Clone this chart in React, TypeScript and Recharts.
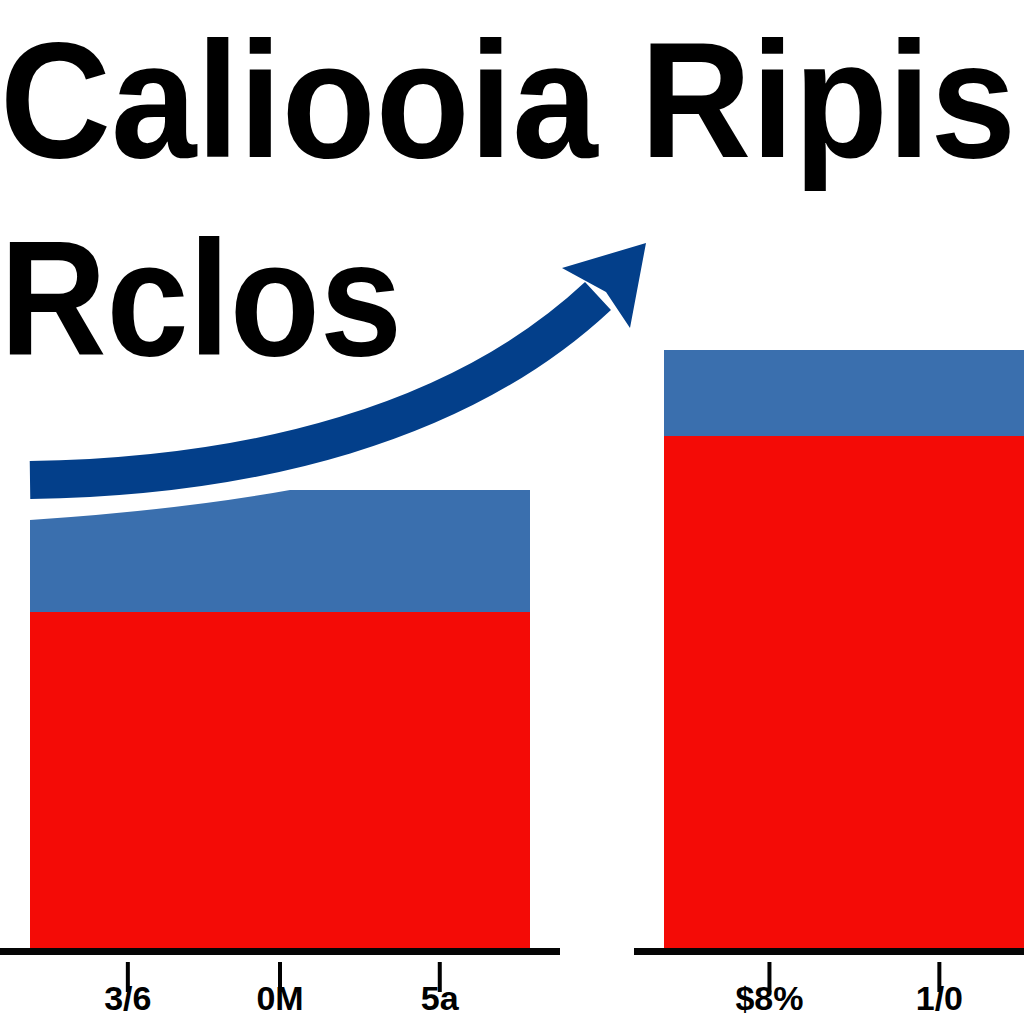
import { BarChart, Bar, XAxis, YAxis } from "recharts";

const categories = ["Caliooia", "Ripis"];
const barPositions = [2.5, 7.5];
const redValues = [33.6, 51.2];
const blueValues = [12.2, 8.6];
const tickLabels = ["3/6", "0M", "5a", "$8%", "1/0"];
const tickPositions = [1.3, 2.5, 3.76, 6.36, 7.7];

const RED = "#f40b06";
const BLUE = "#3a6fae";
const ARROW = "#033f8a";

const chartData = categories.map((name, i) => ({ name, pos: barPositions[i], red: redValues[i], blue: blueValues[i] }));

// red segment plus the black baseline running a bit past each bar
const RedShape = (p: any) => {
  const { x, y, width, height } = p;
  return (
    <g>
      <rect x={x} y={y} width={width} height={height} fill={RED} />
      <rect x={x - 30} y={y + height} width={width + 60} height={7} fill="#050505" />
    </g>
  );
};

// blue top segment, the first one swoops up from the left
const BlueShape = (p: any) => {
  const { x, y, width, height, index } = p;
  if (index !== 0) return <rect x={x} y={y} width={width} height={height} fill={BLUE} />;
  const d = `M${x},${y + 30} Q${x + width * 0.3},${y + 20} ${x + width * 0.52},${y} L${x + width},${y} L${x + width},${y + height} L${x},${y + height} Z`;
  return <path d={d} fill={BLUE} />;
};

const LabelTick = (p: any) => {
  const { x, y, index } = p;
  return (
    <g>
      <line x1={x} y1={y + 14} x2={x} y2={y + 44} stroke="#000" strokeWidth={4} />
      <text x={x} y={y + 62} textAnchor="middle" fontFamily="Liberation Sans, Arial" fontWeight={700} fontSize={34} fill="#000">
        {tickLabels[index]}
      </text>
    </g>
  );
};

export default function App() {
  return (
    <div style={{ position: "fixed", left: 0, top: 0, width: 1024, height: 1024, overflow: "hidden", background: "#fff" }}>
      <div style={{ position: "absolute", left: -37, top: 0 }}>
        <BarChart width={1268} height={1024} data={chartData} margin={{ top: 298, right: 0, left: 0, bottom: 0 }}>
          <XAxis
            dataKey="pos"
            type="number"
            domain={[0, 10]}
            ticks={tickPositions}
            interval={0}
            tick={<LabelTick />}
            axisLine={false}
            tickLine={false}
            tickSize={0}
            tickMargin={0}
            height={76}
          />
          <YAxis hide domain={[0, 65]} />
          <Bar dataKey="red" stackId="s" barSize={500} shape={<RedShape />} isAnimationActive={false} />
          <Bar dataKey="blue" stackId="s" barSize={500} shape={<BlueShape />} isAnimationActive={false} />
        </BarChart>
      </div>
      <svg width={1024} height={1024} style={{ position: "absolute", left: 0, top: 0, pointerEvents: "none" }}>
        <g transform="scale(1, 1.09)">
          <text x={0} y={144} fontFamily="Liberation Sans, Arial" fontWeight={700} fontSize={152} fill="#000" textLength={1016} lengthAdjust="spacingAndGlyphs">
            Caliooia Ripis
          </text>
        </g>
        <text x={0} y={355} fontFamily="Liberation Sans, Arial" fontWeight={700} fontSize={163} fill="#000" textLength={402} lengthAdjust="spacingAndGlyphs">
          Rclos
        </text>
        <path d="M30,480 C250,477 460,425 598,296" fill="none" stroke={ARROW} strokeWidth={38} />
        <path d="M562,268 L646,243 L630,328 L606,292 Z" fill={ARROW} />
      </svg>
    </div>
  );
}
